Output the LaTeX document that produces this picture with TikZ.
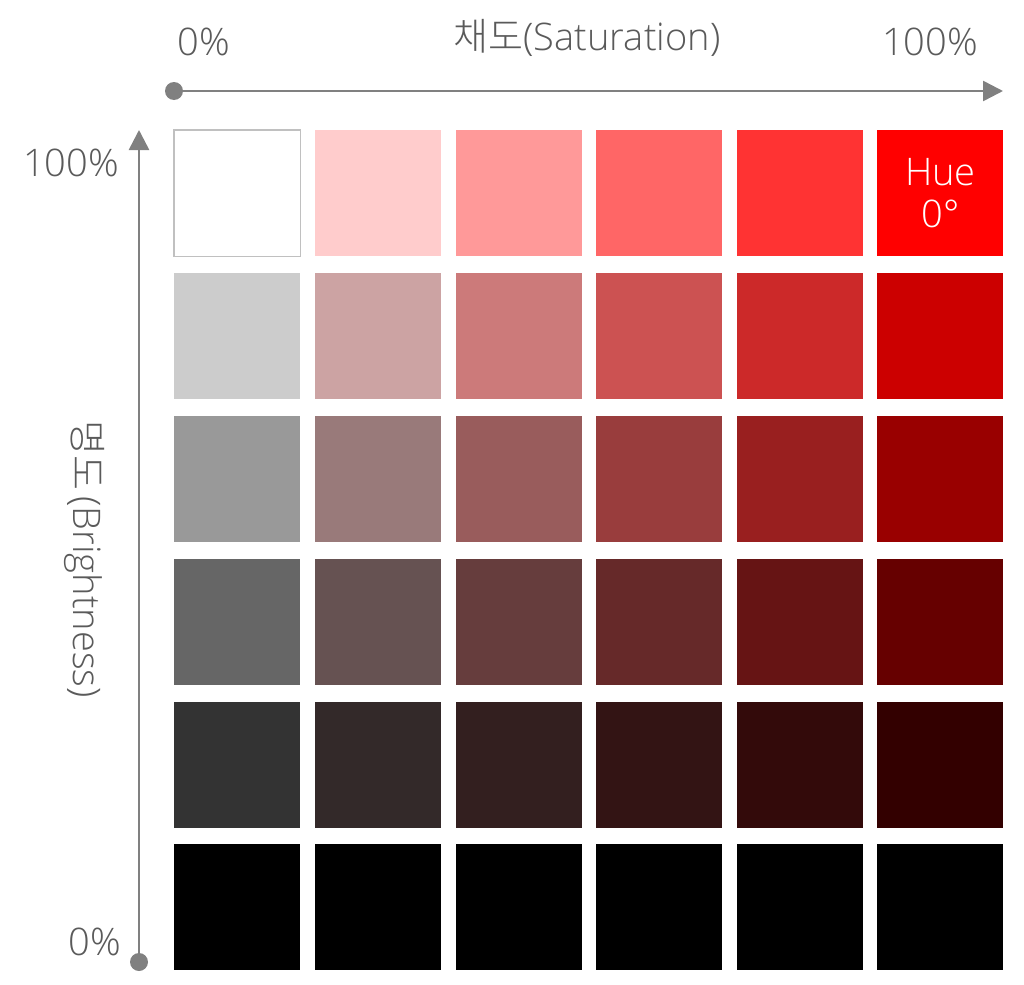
\documentclass[tikz,border=0pt]{standalone}
\usepackage{fontspec}
\setmainfont{Open Sans Light}
\newfontfamily\kr{Noto Sans CJK KR Light}
\usepackage{tikz}
\usetikzlibrary{arrows.meta}
\definecolor{axisgray}{RGB}{128, 128, 128}
\definecolor{labelgray}{RGB}{90, 90, 90}
\definecolor{edgegray}{RGB}{192, 192, 192}

\begin{document}
\begin{tikzpicture}[x=0.5pt, y=-0.5pt,
    every node/.style={font=\fontsize{19}{23}\selectfont, text=labelgray, inner sep=0pt},
    axis/.style={draw=axisgray, line width=1.3pt, -{Triangle[length=10pt, width=10pt]}},
    cell/.style={anchor=north west, minimum width=63pt, minimum height=63pt}]
  \useasboundingbox (0,0) rectangle (1024,985);
  % colour cells: hue 0, saturation by column, brightness by row
  \foreach \r in {0,...,5} {
    \foreach \c in {0,...,5} {
      \pgfmathsetmacro{\b}{1-\r/5}
      \pgfmathsetmacro{\g}{\b*(1-\c/5)}
      \definecolor{cellcol}{rgb}{\b,\g,\g}
      \node[cell, fill=cellcol] (cell-\r-\c) at ({174+140.6*\c},{130+142.8*\r}) {};
    }
  }
  \draw[edgegray, line width=0.6pt] (cell-0-0.north west) rectangle (cell-0-0.south east);
  \node[text=white, align=center, font=\fontsize{19}{22}\selectfont] (hue) at (cell-0-5) {Hue\\[-1pt]0°};
  % axes
  \coordinate (sat0) at (174,91);
  \coordinate (sat100) at (1003,91);
  \coordinate (bri0) at (139,962);
  \coordinate (bri100) at (139,130);
  \draw[axis] (sat0) -- (sat100);
  \draw[axis] (bri0) -- (bri100);
  \fill[axisgray] (sat0) circle (4.5pt);
  \fill[axisgray] (bri0) circle (4.5pt);
  % labels
  \node (satlow) at (204,42) {0\%};
  \node (sathigh) at (930,42) {100\%};
  \node (sattitle) at (587,38) {{\kr 채도}(Saturation)};
  \node (brihigh) at (71,163) {100\%};
  \node (brilow) at (95,942) {0\%};
  \node[rotate=-90] (brititle) at (85,559) {{\kr 명도}\,(Brightness)};
\end{tikzpicture}
\end{document}
